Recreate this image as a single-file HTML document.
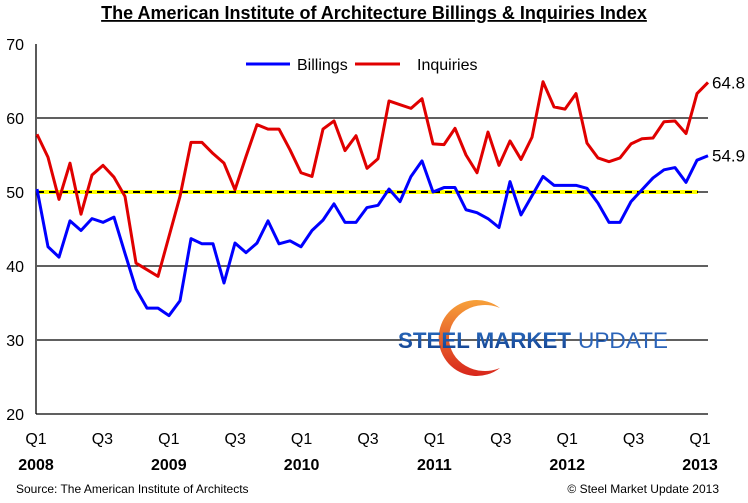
<!DOCTYPE html>
<html><head><meta charset="utf-8"><style>
html,body{margin:0;padding:0;background:#fff;}
svg{display:block;font-family:"Liberation Sans",sans-serif;}
</style></head><body>
<svg id="chart" width="748" height="503" viewBox="0 0 748 503">
<defs>
<linearGradient id="og" x1="0" y1="0" x2="0" y2="1"><stop offset="0" stop-color="#f7a13a"/><stop offset="1" stop-color="#d8261c"/></linearGradient>
<linearGradient id="bg" x1="0" y1="0" x2="0" y2="1"><stop offset="0" stop-color="#2a6cc0"/><stop offset="1" stop-color="#123f8c"/></linearGradient>
</defs>
<text x="374" y="19" text-anchor="middle" font-size="18" font-weight="bold" text-decoration="underline">The American Institute of Architecture Billings &amp; Inquiries Index</text>
<g id="grid"></g>
<g>
<path d="M500,308 A38,38 0 1,0 500,368 A36,33 0 1,1 500,308 Z" fill="url(#og)"/>
<text x="398" y="348" font-size="22" font-weight="bold" fill="url(#bg)" textLength="173" lengthAdjust="spacingAndGlyphs">STEEL MARKET</text>
<text x="578" y="348" font-size="22" fill="#2a63b8" textLength="90" lengthAdjust="spacingAndGlyphs">UPDATE</text>
</g>
<g id="marks"></g>
<g>
<line x1="246" y1="64" x2="290" y2="64" stroke="#0000ff" stroke-width="3"/>
<text x="297" y="70" font-size="16">Billings</text>
<line x1="355" y1="64" x2="400" y2="64" stroke="#e00000" stroke-width="3"/>
<text x="417" y="70" font-size="16">Inquiries</text>
</g>
<text x="16" y="493" font-size="12">Source: The American Institute of Architects</text>
<text x="719" y="493" font-size="12" text-anchor="end">© Steel Market Update 2013</text>
</svg>
<script>
const billings=[50.4,42.6,41.2,46.1,44.8,46.4,45.9,46.6,41.7,36.9,34.3,34.3,33.3,35.3,43.7,43.0,43.0,37.7,43.1,41.8,43.1,46.1,43.0,43.4,42.6,44.8,46.2,48.4,45.9,45.9,47.9,48.2,50.4,48.7,52.1,54.2,50.0,50.6,50.6,47.6,47.2,46.4,45.2,51.4,46.9,49.5,52.1,50.9,50.9,50.9,50.5,48.5,45.9,45.9,48.7,50.3,51.9,53.0,53.3,51.3,54.3,54.9];
const inquiries=[57.8,54.7,49.0,53.9,47.0,52.3,53.6,52.0,49.4,40.4,39.5,38.6,44.0,49.4,56.7,56.7,55.2,53.9,50.3,54.8,59.1,58.5,58.5,55.7,52.6,52.1,58.5,59.6,55.6,57.6,53.2,54.5,62.3,61.8,61.3,62.6,56.5,56.4,58.6,55.0,52.6,58.1,53.6,56.9,54.4,57.4,64.9,61.5,61.2,63.3,56.6,54.6,54.1,54.6,56.5,57.2,57.3,59.5,59.6,57.9,63.3,64.8];
const yTicks=[20,30,40,50,60,70];
const quarterLabels=["Q1","Q3","Q1","Q3","Q1","Q3","Q1","Q3","Q1","Q3","Q1"];
const yearLabels=["2008","2009","2010","2011","2012","2013"];
const threshold=50;
const lastLabels=["54.9","64.8"];

const NS="http://www.w3.org/2000/svg";
const X0=37,X1=708,Y70=44,Y20=414;
const nPts=inquiries.length;
function xs(i){return X0+i*(X1-X0)/(nPts-1);}
function ys(v){return Y20-(v-20)*(Y20-Y70)/50;}
function mk(tag,attrs,parent){const e=document.createElementNS(NS,tag);for(const k in attrs)e.setAttribute(k,attrs[k]);parent.appendChild(e);return e;}
const grid=document.getElementById('grid'),marks=document.getElementById('marks');
yTicks.forEach(t=>{
  if(t>20&&t<70){const l=mk('line',{x1:X0,x2:X1,y1:ys(t),y2:ys(t),stroke:'#000','stroke-width':1.2},grid);
  
  }
  const tx=mk('text',{x:24,y:ys(t)+6,'text-anchor':'end','font-size':16},grid);
  tx.textContent=t;
  
  
});
const ax=mk('line',{x1:X0-1,x2:X0-1,y1:Y70,y2:Y20,stroke:'#000','stroke-width':1.3},grid);


const bx=mk('line',{x1:X0-1,x2:X1,y1:Y20,y2:Y20,stroke:'#000','stroke-width':1.3},grid);


quarterLabels.forEach((q,k)=>{
  const t=mk('text',{x:36+k*66.4,y:444,'text-anchor':'middle','font-size':16},grid);
  t.textContent=q;
  
  
});
yearLabels.forEach((yr,k)=>{
  const t=mk('text',{x:36+k*132.8,y:470,'text-anchor':'middle','font-size':16,'font-weight':'bold'},grid);
  t.textContent=yr;
  
  
});
const yl=mk('line',{x1:X0,x2:698,y1:ys(threshold),y2:ys(threshold),stroke:'#ffff00','stroke-width':4},marks);


const dl=mk('line',{x1:X0,x2:698,y1:ys(threshold),y2:ys(threshold),stroke:'#000','stroke-width':2,'stroke-dasharray':'7,5'},marks);


function series(arr,color,name){
  const p=mk('polyline',{points:arr.map((v,i)=>xs(i)+','+ys(v)).join(' '),fill:'none',stroke:color,'stroke-width':3,'stroke-linejoin':'round'},marks);
  
  
}
series(billings,'#0000ff','billings-line');
series(inquiries,'#e00000','inquiries-line');
const lb=mk('text',{x:712,y:ys(billings[nPts-1])+6,'font-size':17},marks);
lb.textContent=lastLabels[0];


const li=mk('text',{x:712,y:ys(inquiries[nPts-1])+6,'font-size':17},marks);
li.textContent=lastLabels[1];


</script>
</body></html>
